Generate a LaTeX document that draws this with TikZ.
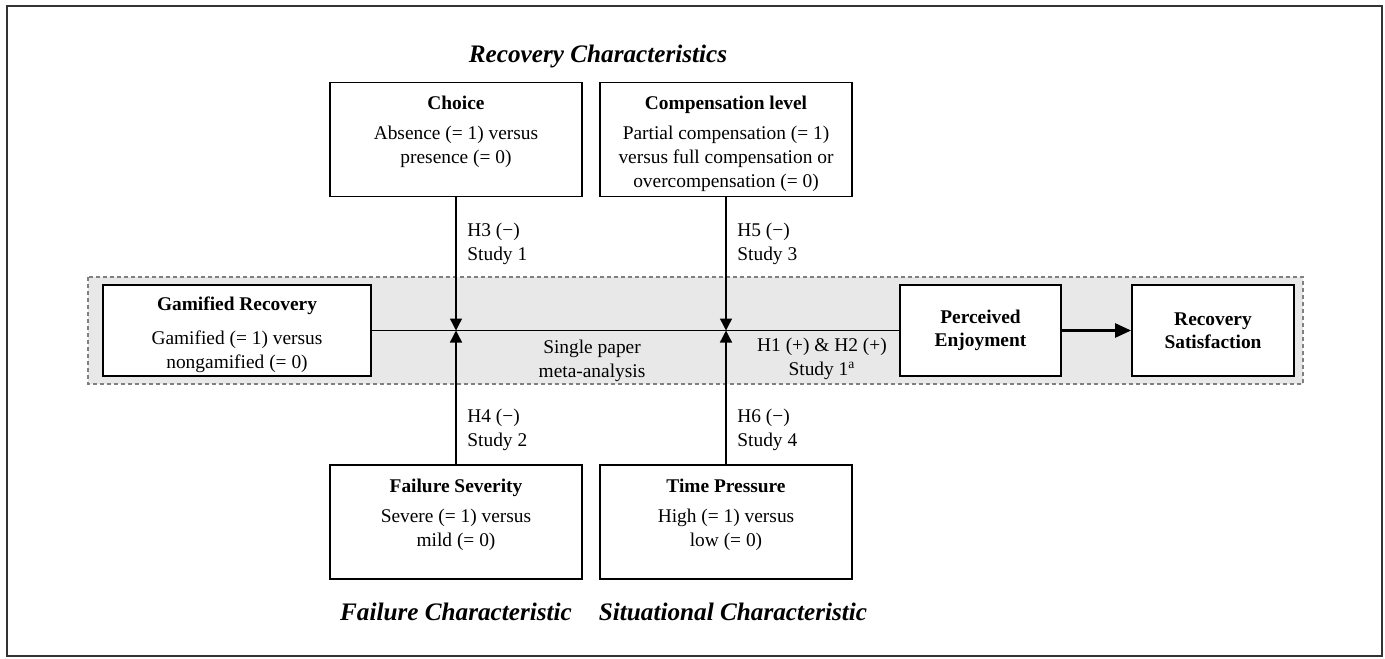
\documentclass[tikz,border=0pt]{standalone}
\usepackage{fontspec}
\setmainfont{Liberation Serif}
\usetikzlibrary{positioning,arrows.meta}

% box text: bold heading on top, lines below
\newcommand{\vartext}[2]{\parbox[c][52pt][t]{124pt}{\centering\rule{0pt}{11pt}\textbf{#1}\\[3pt]#2}}

\begin{document}
\begin{tikzpicture}[x=0.5pt,y=-0.5pt,
    every node/.style={font=\fontsize{9.7}{12}\selectfont},
    varbox/.style={draw,line width=0.9pt,fill=white,minimum width=126pt,minimum height=57pt,inner sep=0pt},
    midbox/.style={draw,line width=0.9pt,fill=white,minimum height=45.5pt,inner sep=0pt,align=center},
    grouplabel/.style={font=\fontsize{12.6}{15}\selectfont\bfseries\itshape},
    hyplabel/.style={align=left,inner sep=0pt,anchor=west},
    connector/.style={line width=0.7pt},
    modarrow/.style={-{Triangle[length=6pt,width=6pt]}}]
    \useasboundingbox (0,0) rectangle (1385,658);
    \draw[line width=1pt,draw=black!80] (7,6) rectangle (1382,656);
    % Faixa cinza do efeito principal
    \draw[dash pattern=on 2pt off 1.5pt,draw=gray,fill=black!9,line width=0.6pt] (88,277) rectangle (1303,384);

    \node[varbox] (choice) at (456,139.5) {\vartext{Choice}{Absence (= 1) versus\\presence (= 0)}};
    \node[varbox] (comp) at (726,139.5) {\vartext{Compensation level}{Partial compensation (= 1)\\versus full compensation or\\overcompensation (= 0)}};
    \node[varbox] (severity) at (456,522) {\vartext{Failure Severity}{Severe (= 1) versus\\mild (= 0)}};
    \node[varbox] (timep) at (726,522) {\vartext{Time Pressure}{High (= 1) versus\\low (= 0)}};
    \node[grouplabel] (rectitle) at (598,56) {Recovery Characteristics};
    \node[grouplabel,below=8pt of severity] (failtitle) {Failure Characteristic};
    \node[grouplabel,below=8pt of timep,xshift=3.5pt] (sittitle) {Situational Characteristic};

    \node[midbox,minimum width=134pt] (gamified) at (237,330.5) {\parbox[c][43pt][t]{132pt}{\centering\rule{0pt}{11.5pt}\textbf{Gamified Recovery}\\[5pt]Gamified (= 1) versus\\nongamified (= 0)}};
    \node[midbox,minimum width=80.5pt,font=\fontsize{9.7}{11.5}\selectfont\bfseries] (enjoy) at (980.5,330.5) {Perceived\\Enjoyment};
    \node[midbox,minimum width=81pt,font=\fontsize{9.7}{11.5}\selectfont\bfseries] (satisf) at (1213,330.5) {Recovery\\Satisfaction};
    \coordinate (j1) at (choice.south |- gamified.east);
    \coordinate (j2) at (comp.south |- gamified.east);

    \node[hyplabel] (h3) at (467,244) {H3 (−)\\Study 1};
    \node[hyplabel] (h5) at (737,244) {H5 (−)\\Study 3};
    \node[hyplabel] (h4) at (467,430) {H4 (−)\\Study 2};
    \node[hyplabel] (h6) at (737,430) {H6 (−)\\Study 4};
    \node[align=center] (spm) at (592,361) {Single paper\\meta-analysis};
    \node[align=center] (h12) at (822,359) {H1 (+) \& H2 (+)\\Study 1\textsuperscript{a}};

    % Linhas e setas de moderação
    \draw[connector] (gamified.east) -- (enjoy.west);
    \foreach \from/\to in {choice/j1,severity/j1,comp/j2,timep/j2} {\draw[connector,modarrow] (\from) -- (\to);}
    \draw[line width=1.3pt,-{Triangle[length=8pt,width=7pt]}] (enjoy) -- (satisf);
\end{tikzpicture}
\end{document}
